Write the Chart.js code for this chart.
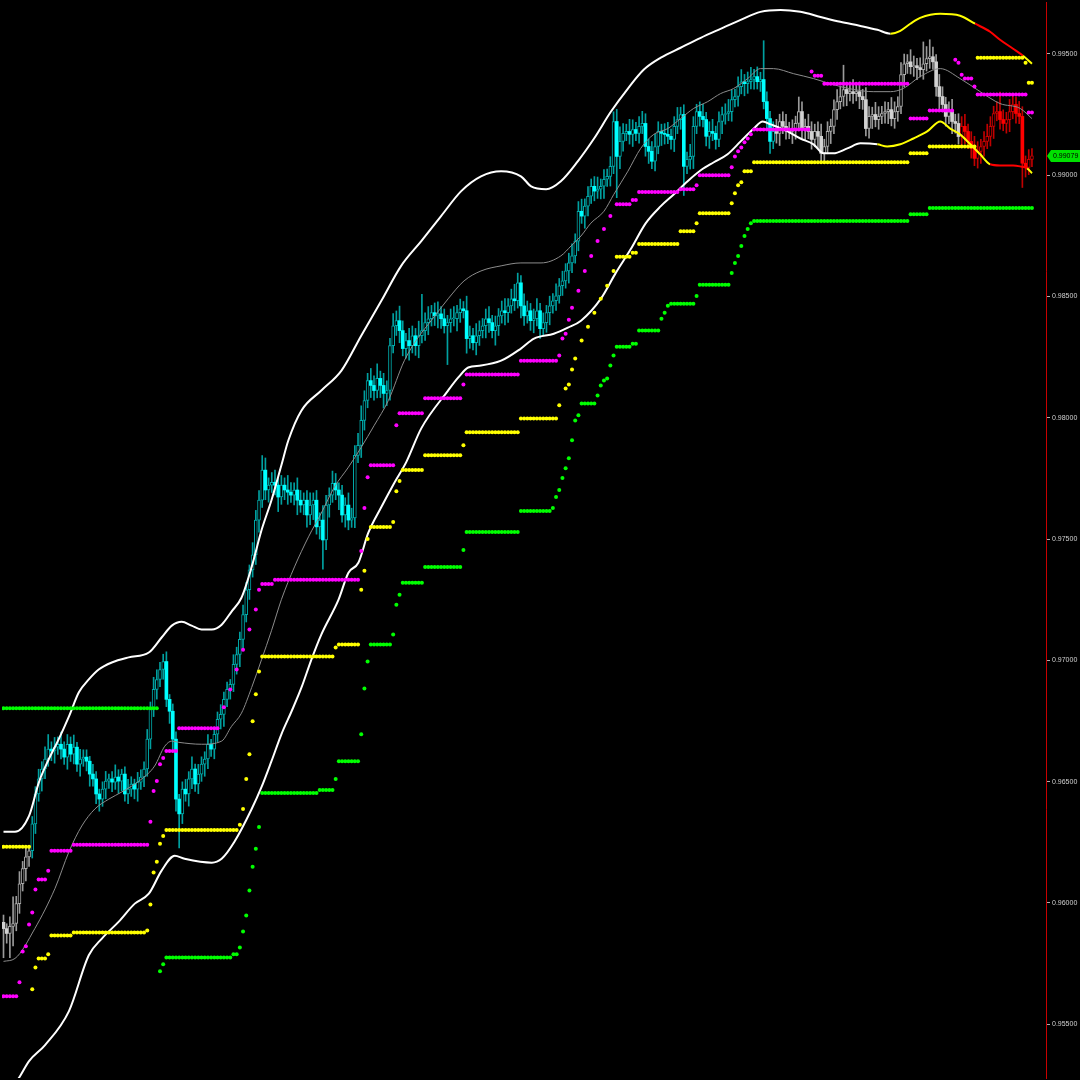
<!DOCTYPE html>
<html><head><meta charset="utf-8">
<script src="https://cdn.jsdelivr.net/npm/chart.js@4.4.1/dist/chart.umd.min.js"></script>
<style>html,body{margin:0;padding:0;background:#000;overflow:hidden}canvas{display:block}</style>
</head><body>
<canvas id="c" width="1080" height="1080"></canvas>
<script>
// prices are stored as pips above 0.95000
const BASE = 0.95, PIP = 0.0001;
const firstOpen = 92;
const closes = [89.4,87.4,90.3,91.5,99.7,107.9,114.1,119.0,121.5,132.6,
144.9,151.1,155.2,159.3,163.4,162.6,164.2,165.4,163.4,160.1,
165.4,161.3,164.2,157.2,159.3,160.1,158.4,153.1,151.1,144.9,
142.8,146.9,150.2,151.1,149.8,151.9,150.2,153.1,144.9,146.9,
149.0,146.9,149.8,151.9,155.2,167.5,179.8,188.0,192.1,196.2,
199.5,183.9,179.0,167.5,142.8,136.7,146.9,144.9,151.1,155.2,
149.0,153.1,157.2,159.3,165.4,163.4,169.5,175.7,177.7,183.9,
188.0,190.1,198.3,202.4,208.6,218.8,229.1,237.3,243.5,257.8,
266.0,278.4,270.2,272.2,273.4,272.2,267.3,272.2,270.2,269.3,
268.1,270.2,266.0,264.0,266.0,259.9,264.0,266.0,255.0,257.8,
249.6,264.0,268.1,273.0,270.2,268.1,259.9,264.0,257.8,258.7,
284.5,288.6,298.9,307.1,315.3,313.3,311.2,316.2,313.3,310.0,
311.2,329.7,337.9,340.0,335.9,328.5,331.8,329.7,333.8,329.7,
333.8,335.9,339.2,340.8,343.3,342.0,342.8,340.8,337.9,339.2,
340.8,340.8,343.3,344.9,344.1,332.6,333.8,330.9,333.8,335.9,
337.9,340.8,339.2,335.9,337.9,342.0,344.1,343.3,346.1,349.0,
348.2,355.6,346.1,342.0,344.1,340.0,340.8,344.1,336.7,339.2,
343.3,346.1,348.2,350.2,354.4,356.4,360.5,363.8,366.7,372.8,
385.1,383.1,387.2,391.3,395.4,393.4,394.2,395.4,398.3,399.5,
403.6,422.1,407.7,413.9,417.2,418.0,416.8,418.8,417.2,420.1,
421.3,411.8,409.8,405.7,411.8,418.0,417.2,416.8,416.0,414.7,
420.1,422.9,425.0,403.6,406.5,407.7,420.1,426.2,424.2,422.9,
416.0,418.0,417.2,414.7,422.1,425.0,425.4,426.2,431.1,432.4,
436.5,438.5,437.7,438.5,439.4,440.6,438.5,439.4,430.3,423.3,
413.9,418.0,417.2,422.1,420.1,418.8,418.0,418.8,421.3,426.2,
419.2,420.1,418.0,414.7,418.0,416.0,409.0,411.8,418.0,420.1,
427.0,430.3,432.4,435.3,433.6,434.4,433.6,434.4,432.4,431.1,
419.2,424.2,425.0,422.9,424.2,425.4,426.2,427.0,423.3,426.2,
428.3,441.4,445.9,446.7,444.7,445.1,444.3,443.5,445.9,448.0,
448.8,446.7,436.5,432.4,429.1,424.2,426.2,422.1,421.3,415.9,
420.1,418.0,413.9,411.0,406.9,409.8,411.8,413.9,416.0,420.1,
425.4,426.2,422.9,421.3,422.9,426.2,429.1,425.4,424.2,404.9,
403.2,406.5,407.9];
const upWick = [3,2,4,11,3,5,3,4,2,3, 3,4,3,5,6,3,4,3,5,3,
4,3,5,2,4,3,3,2,4,3, 2,3,4,2,3,5,3,2,3,4,
3,2,4,3,3,4,3,5,4,3, 3,4,2,3,3,2,3,4,3,5,
2,4,3,3,4,2,3,3,4,3, 3,2,4,3,3,4,3,2,5,4,
4,6,5,3,4,5,3,4,3,6, 4,3,5,4,3,4,5,3,4,3,
6,4,3,5,4,3,4,3,5,4, 4,5,6,4,3,5,4,6,3,5,
4,3,5,4,6,4,3,5,4,3, 6,15,4,5,3,4,5,3,4,3,
4,5,3,4,3,6,4,3,5,4, 3,4,5,3,4,3,4,5,3,4,
6,4,3,5,4,3,4,5,3,4, 3,4,3,5,3,4,3,4,5,3,
4,5,3,4,3,4,5,3,4,3, 4,4,5,6,4,3,5,4,3,4,
5,4,3,4,5,4,3,4,5,3, 4,5,3,4,3,5,4,3,4,5,
3,4,5,3,4,3,4,5,4,3, 4,5,3,4,5,3,4,3,16,4,
3,4,5,3,4,5,3,4,3,6, 4,3,5,4,3,4,5,3,4,3,
4,5,4,10,3,4,5,3,4,3, 5,4,3,5,4,3,4,3,5,4,
4,5,4,3,5,4,3,4,9,5, 7,4,3,5,4,3,4,5,3,4,
4,5,3,4,5,4,3,4,5,4, 3,4,8,4,3,5,4,3,5,4,
3,4,3];
const dnWick = [12,4,10,8,3,4,3,5,4,3, 4,3,5,4,3,4,5,3,4,3,
5,3,4,3,5,3,4,5,3,4, 5,3,4,3,4,3,5,4,3,4,
3,4,5,3,4,3,4,3,4,3, 4,3,5,4,5,14,4,3,5,4,
3,4,3,5,4,3,4,3,4,5, 3,4,3,4,5,4,3,4,3,4,
5,3,4,5,3,4,6,3,4,5, 3,4,6,3,4,5,4,6,3,5,
12,4,5,3,4,6,3,5,4,3, 4,3,5,4,3,5,4,3,5,6,
5,4,3,4,5,3,4,6,3,4, 5,3,4,5,3,4,5,4,3,16,
4,3,5,4,3,6,4,3,5,4, 3,5,4,3,6,4,3,5,4,3,
4,3,5,4,3,4,5,3,4,3, 4,5,3,4,3,4,3,5,4,3,
4,3,5,4,3,4,3,4,5,3, 4,3,17,5,4,3,4,5,3,4,
3,4,5,3,4,3,5,4,3,4, 5,3,4,12,3,4,5,3,4,3,
4,5,3,4,3,5,4,3,4,3, 4,3,5,4,3,4,3,4,3,4,
5,3,4,5,3,4,3,5,4,3, 4,5,3,4,3,5,3,4,3,5,
3,4,3,4,5,3,4,3,5,4, 3,4,5,3,4,3,4,5,3,4,
4,3,5,4,3,4,5,3,4,3, 4,3,4,5,3,4,3,5,4,3,
4,5,3,4,3,4,5,4,3,4, 5,3,4,3,4,5,3,4,3,10,
4,3,3];
// candle colour state by bar range
const colorZones = [[0,8,'grey'],[9,241,'cyan'],[242,299,'grey'],[300,322,'red']];
// bands: [bar index, pips]
const upperBand = [[0,129.3],[3.6,129.3],[8.0,135.9],[11.1,149.8],[14.2,159.3],[17.3,167.5],[20.5,176.9],[23.6,186.8],[26.7,192.1],[29.8,196.2],[33.9,199.1],[39.2,201.2],[45.5,203.2],[49.5,209.4],[52.7,214.3],[55.8,215.9],[58.9,214.3],[62.0,212.7],[65.2,212.7],[68.3,214.7],[71.4,220.1],[74.5,225.8],[77.7,238.5],[80.8,253.7],[83.9,266.0],[87.0,280.4],[89.2,290.7],[93.3,303.0],[99.5,311.2],[105.8,319.4],[112.0,333.8],[118.3,348.2],[124.5,362.6],[130.8,372.8],[137.0,383.1],[143.3,393.4],[149.5,399.5],[155.8,401.6],[162.0,399.5],[165.2,395.4],[169.9,394.2],[174.5,397.5],[179.8,405.7],[184.9,415.1],[190.2,426.2],[195.5,435.7],[200.5,443.5],[205.8,448.4],[212.0,452.5],[218.3,456.6],[224.5,460.3],[230.8,464.0],[237.0,467.3],[243.3,468.1],[249.5,467.3],[255.8,465.2],[262.0,463.2],[268.3,461.5],[273.6,459.9],[277.7,458.3],[280.8,459.5],[283.9,462.4],[287.0,464.8],[293.3,466.5],[299.5,465.7],[304.2,462.4],[308.9,459.1],[312.0,455.8],[316.1,452.1],[319.2,449.2],[322.0,445.9]];
const lowerBand = [[0,19.6],[4.8,27.8],[8.0,34.8],[13.0,41.4],[20.5,55.4],[26.7,78.4],[30.8,85.3],[36.1,92.3],[41.1,99.7],[45.5,103.8],[49.5,113.3],[53.6,119.4],[56.7,118.2],[65.2,116.6],[68.3,118.2],[72.3,125.2],[77.7,138.7],[80.8,147.8],[83.9,158.4],[87.0,169.5],[90.2,179.0],[93.3,188.8],[96.4,200.3],[99.5,210.6],[104.9,225.0],[108.0,236.1],[111.1,240.2],[114.2,252.5],[118.3,263.2],[122.3,273.0],[126.1,281.7],[130.8,295.6],[139.2,311.2],[142.4,316.6],[145.5,320.7],[149.5,321.5],[155.8,323.5],[162.0,328.5],[166.1,332.6],[172.3,334.6],[176.7,337.1],[180.8,340.0],[187.0,349.0],[191.7,359.7],[196.4,369.5],[201.1,380.2],[205.8,387.2],[209.9,392.1],[214.2,397.5],[218.3,402.0],[222.4,405.3],[226.7,408.6],[230.8,413.9],[234.9,419.2],[237.7,422.1],[240.2,420.9],[245.5,418.0],[249.5,415.1],[253.6,412.7],[256.7,409.0],[259.8,409.0],[264.2,411.0],[268.3,413.1],[273.6,412.7],[276.7,411.8],[280.8,412.7],[284.9,415.1],[289.2,418.0],[293.3,422.1],[296.4,419.2],[299.5,416.8],[302.7,412.7],[305.8,408.6],[308.9,404.5],[312.0,404.0],[316.1,404.0],[318.3,403.6],[320.5,402.8],[322.0,400.8]];
const midLine = [[0,75.9],[3.6,77.1],[9.8,89.4],[16.1,105.9],[20.5,121.1],[24.5,131.7],[28.6,138.7],[33.0,142.8],[37.0,145.7],[43.3,151.1],[47.3,156.4],[50.5,164.6],[52.7,166.7],[54.8,166.2],[62.0,165.4],[68.3,166.7],[71.4,172.8],[74.5,178.2],[77.7,188.8],[80.8,200.3],[83.9,212.2],[87.0,225.0],[91.1,238.5],[95.5,250.9],[99.5,260.7],[103.6,271.4],[108.0,279.6],[112.0,287.8],[116.1,296.9],[120.5,307.1],[125.5,323.5],[129.8,333.0],[133.9,340.0],[139.2,349.0],[144.2,356.4],[149.5,360.5],[155.8,362.6],[162.0,363.8],[168.3,363.8],[174.5,366.7],[177.7,370.8],[180.8,374.9],[183.9,380.2],[188.0,385.1],[191.1,392.1],[195.5,401.6],[199.5,411.0],[203.6,416.8],[208.0,419.2],[212.0,423.3],[216.1,427.5],[220.5,430.3],[224.5,433.6],[228.6,435.7],[233.0,439.8],[237.0,443.9],[241.1,443.9],[247.4,441.8],[253.6,439.8],[259.8,437.3],[266.1,435.3],[272.3,434.4],[277.7,434.4],[281.7,435.7],[287.0,440.6],[293.3,443.9],[299.5,439.8],[305.8,434.4],[312.0,429.5],[318.3,427.5],[322.0,423.3]];
// dot levels: [first bar, last bar, pips]
const magentaRuns = [[0,4,61.5],[5,5,67.3],[6,6,80.0],[7,7,82.1],[8,8,91.1],[9,9,96.0],[10,10,105.5],[11,13,109.6],[14,14,113.3],[15,21,121.5],[22,45,124.0],[46,46,133.4],[47,47,146.1],[48,48,150.2],[49,49,157.2],[50,50,159.7],[51,54,162.6],[55,67,172.0],[69,69,180.6],[71,71,188.0],[73,73,196.2],[75,75,204.4],[77,77,212.7],[79,79,220.9],[80,80,229.1],[81,84,231.5],[85,111,233.2],[112,112,245.1],[113,113,262.8],[114,114,275.5],[115,122,280.4],[123,123,296.9],[124,131,301.8],[132,143,308.0],[144,144,313.7],[145,161,317.8],[162,173,323.5],[174,174,325.6],[175,175,332.6],[176,176,334.6],[177,177,340.4],[178,178,345.3],[180,180,352.3],[182,182,360.5],[184,184,366.7],[186,186,372.8],[188,188,377.8],[190,190,383.1],[192,196,388.0],[197,198,389.7],[199,211,393.0],[212,216,394.2],[217,217,395.8],[218,227,399.9],[228,228,403.2],[229,229,407.7],[230,230,409.8],[231,231,411.4],[232,232,413.5],[233,233,415.1],[234,234,416.8],[235,252,418.8],[253,253,442.7],[254,256,441.0],[257,283,437.7],[284,289,423.3],[290,297,426.6],[298,298,447.6],[299,299,446.3],[300,300,441.4],[301,303,439.8],[304,304,436.5],[305,320,433.2],[321,322,425.8]];
const yellowRuns = [[0,8,123.1],[9,9,64.4],[10,10,73.4],[11,13,77.1],[14,14,78.8],[15,21,86.6],[22,44,87.8],[45,45,88.6],[46,46,99.3],[47,47,112.5],[48,48,117.0],[49,49,124.4],[50,50,127.6],[51,73,130.1],[74,74,132.2],[75,75,138.7],[76,76,151.1],[77,77,161.3],[78,78,174.9],[79,79,186.0],[80,80,195.4],[81,103,201.6],[104,104,205.3],[105,111,206.5],[112,112,229.1],[113,113,236.9],[114,114,250.0],[115,121,255.0],[122,122,257.0],[123,123,269.7],[124,124,273.9],[125,131,278.4],[132,143,284.5],[144,144,288.6],[145,161,294.0],[162,173,299.7],[174,174,305.1],[176,176,312.0],[177,177,313.7],[178,178,319.9],[179,179,324.4],[181,181,331.8],[183,183,337.5],[185,185,343.3],[187,187,349.0],[189,189,354.4],[191,191,360.5],[192,196,366.3],[197,198,368.0],[199,211,371.6],[212,216,376.9],[217,217,380.2],[218,227,384.3],[228,228,388.4],[229,229,392.5],[230,230,395.8],[231,231,397.1],[232,234,401.6],[235,283,405.3],[284,289,409.0],[290,304,411.8],[305,319,448.4],[320,320,446.3],[321,322,438.1]];
const greenRuns = [[0,48,180.2],[49,49,71.8],[50,50,74.7],[51,71,77.5],[72,73,78.8],[74,74,81.6],[75,75,88.2],[76,76,94.8],[77,77,105.1],[78,78,114.9],[79,79,122.3],[80,80,131.3],[81,98,145.3],[99,103,146.5],[104,104,151.1],[105,111,158.4],[112,112,169.5],[113,113,188.4],[114,114,199.5],[115,121,206.5],[122,122,210.6],[123,123,222.9],[124,124,227.0],[125,131,232.0],[132,143,238.5],[144,144,245.5],[145,161,252.9],[162,171,261.5],[172,172,262.8],[173,173,267.3],[174,174,270.2],[175,175,275.1],[176,176,279.2],[177,177,283.3],[178,178,290.7],[179,179,298.9],[180,180,301.0],[181,185,305.9],[186,186,309.2],[187,187,313.3],[188,188,315.3],[189,189,316.2],[190,190,321.5],[191,191,325.6],[192,196,329.3],[197,198,330.5],[199,205,335.9],[206,206,340.8],[207,207,343.3],[208,208,346.1],[209,216,347.0],[217,217,350.2],[218,227,354.8],[228,228,359.7],[229,229,363.8],[230,230,366.7],[231,231,370.8],[232,232,374.9],[233,233,377.8],[234,234,380.2],[235,283,381.1],[284,289,383.9],[290,322,386.4]];
const tickValues = [0.955,0.960,0.965,0.970,0.975,0.980,0.985,0.990,0.995];
const lastPrice = 0.99079;
const yMin = 0.952782, yMax = 0.997136;

// ---- build library data ----
const price = p => +(BASE + p * PIP).toFixed(6);
const opens = closes.map((c, i) => i === 0 ? firstOpen : closes[i - 1]);
const palette = {
  cyan: {bear: '#00ffff', bull: '#00a8a8', wick: '#00a0a0'},
  grey: {bear: '#d2d2d2', bull: '#a8a8a8', wick: '#9a9a9a'},
  red:  {bear: '#ff0000', bull: '#c80000', wick: '#c00000'}
};
function zone(i) { for (const z of colorZones) if (i >= z[0] && i <= z[1]) return palette[z[2]]; return palette.cyan; }
const isBull = i => closes[i] >= opens[i];
const bodyData = closes.map((c, i) => ({x: i, y: [price(opens[i]), price(c)]}));
const wickData = closes.map((c, i) => ({x: i, y: [price(Math.min(opens[i], c) - dnWick[i]), price(Math.max(opens[i], c) + upWick[i])]}));
const toPts = arr => arr.map(([x, p]) => ({x, y: price(p)}));
function expandRuns(runs) { const out = []; for (const [s, e, p] of runs) for (let i = s; i <= e; i++) out.push({x: i, y: price(p)}); return out; }
function zoneColor(zones, x) { let c = '#ffffff'; for (const [start, col] of zones) if (x >= start - 1e-6) c = col; return c; }
const upperZones = [[277.7, '#ffff00'], [304.2, '#ff0000'], [319.2, '#ffff00']];
const lowerZones = [[273.6, '#ffff00'], [308.9, '#ff0000'], [320.5, '#ffff00']];

const dotDs = (data, color) => ({type: 'line', data, showLine: false, pointRadius: 2, pointHoverRadius: 2, pointBackgroundColor: color, pointBorderWidth: 0, order: 0});
const lineDs = (data, color, w, zones) => ({type: 'line', data, borderColor: color, borderWidth: w, pointRadius: 0, fill: false, cubicInterpolationMode: 'monotone', order: 1,
  segment: zones ? {borderColor: ctx => zoneColor(zones, ctx.p0.parsed.x)} : undefined});

const bgPlugin = {id: 'bg', beforeDraw(chart) { const c = chart.ctx; c.save(); c.fillStyle = '#000'; c.fillRect(0, 0, chart.width, chart.height); c.restore(); }};
const priceTag = {id: 'priceTag', afterDraw(chart) {
  const c = chart.ctx, y = chart.scales.y.getPixelForValue(lastPrice), x = chart.chartArea.right + 1;
  c.save(); c.fillStyle = '#00e000';
  c.beginPath(); c.moveTo(x, y); c.lineTo(x + 4, y - 6); c.lineTo(chart.width, y - 6); c.lineTo(chart.width, y + 6); c.lineTo(x + 4, y + 6); c.closePath(); c.fill();
  c.fillStyle = '#000'; c.font = '7px "Liberation Sans"'; c.textBaseline = 'middle'; c.textAlign = 'left';
  c.fillText(lastPrice.toFixed(5), x + 6, y + 0.5); c.restore();
}};

new Chart(document.getElementById('c'), {
  type: 'bar',
  data: {datasets: [
    dotDs(expandRuns(magentaRuns), '#ff00ff'),
    dotDs(expandRuns(yellowRuns), '#ffff00'),
    dotDs(expandRuns(greenRuns), '#00ff00'),
    lineDs(toPts(upperBand), '#ffffff', 2, upperZones),
    lineDs(toPts(lowerBand), '#ffffff', 2, lowerZones),
    lineDs(toPts(midLine), '#8c8c8c', 1, null),
    {type: 'bar', data: bodyData, grouped: false, barThickness: 3, minBarLength: 1, borderSkipped: false, order: 2,
      backgroundColor: ctx => isBull(ctx.dataIndex) ? '#000000' : zone(ctx.dataIndex).bear,
      borderColor: ctx => isBull(ctx.dataIndex) ? zone(ctx.dataIndex).bull : zone(ctx.dataIndex).bear,
      borderWidth: ctx => isBull(ctx.dataIndex) ? 1 : 0},
    {type: 'bar', data: wickData, grouped: false, barThickness: 1, order: 3,
      backgroundColor: ctx => zone(ctx.dataIndex).wick}
  ]},
  options: {
    responsive: false, animation: false, devicePixelRatio: 1,
    layout: {padding: 0},
    plugins: {legend: {display: false}, tooltip: {enabled: false}},
    scales: {
      x: {type: 'linear', min: -0.47, max: 326.4, display: false, offset: false},
      y: {type: 'linear', position: 'right', min: yMin, max: yMax,
        afterBuildTicks: s => { s.ticks = tickValues.map(v => ({value: v})); },
        afterFit: s => { s.width = 34; s.paddingTop = 0; s.paddingBottom = 0; },
        ticks: {color: '#d0d0d0', font: {family: '"Liberation Sans"', size: 7}, padding: 2, callback: v => v.toFixed(5)},
        grid: {drawOnChartArea: false, drawTicks: true, tickLength: 4, tickColor: '#b0b0b0'},
        border: {display: true, color: '#c80000', width: 1}}
    }
  },
  plugins: [bgPlugin, priceTag]
});
</script>
</body></html>
